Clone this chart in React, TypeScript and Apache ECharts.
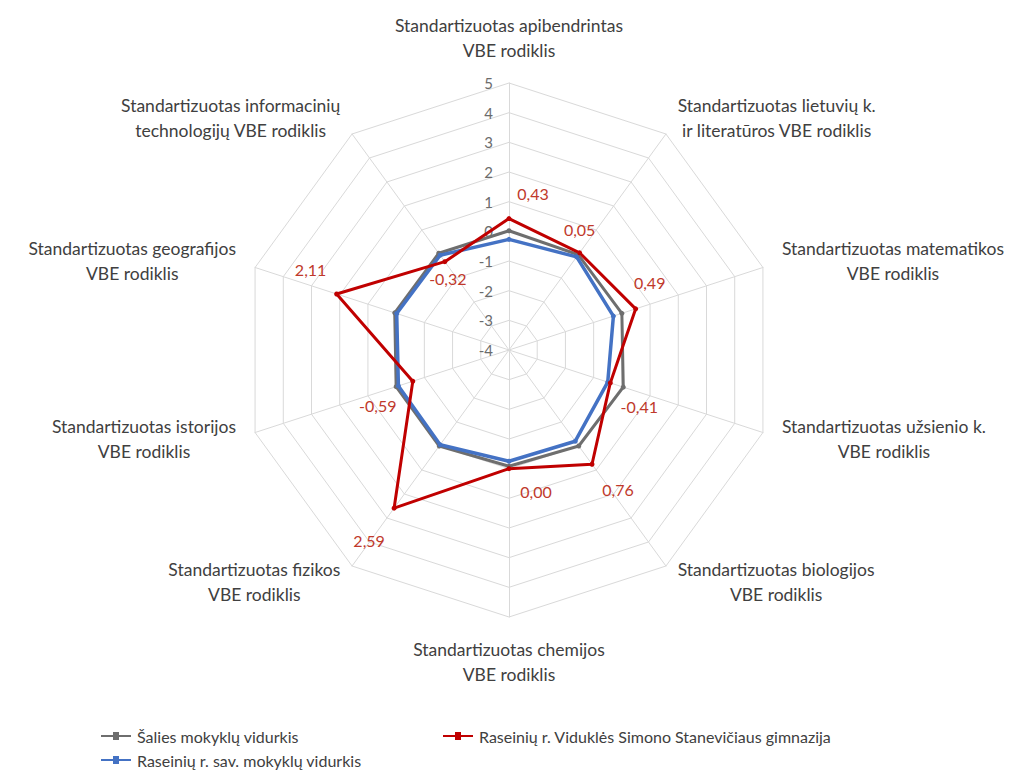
import React, { useEffect, useRef } from "react";
import * as echarts from "echarts";

// Axes, clockwise from the top
const indicatorNames = [
  "Standartizuotas apibendrintas\nVBE rodiklis",
  "Standartizuotas lietuvių k.\nir literatūros VBE rodiklis",
  "Standartizuotas matematikos\nVBE rodiklis",
  "Standartizuotas užsienio k.\nVBE rodiklis",
  "Standartizuotas biologijos\nVBE rodiklis",
  "Standartizuotas chemijos\nVBE rodiklis",
  "Standartizuotas fizikos\nVBE rodiklis",
  "Standartizuotas istorijos\nVBE rodiklis",
  "Standartizuotas geografijos\nVBE rodiklis",
  "Standartizuotas informacinių\ntechnologijų VBE rodiklis",
];

const seriesNames = [
  "Šalies mokyklų vidurkis",
  "Raseinių r. sav. mokyklų vidurkis",
  "Raseinių r. Viduklės Simono Stanevičiaus gimnazija",
];

// values, clockwise from the top
const countryAvg = [0.02, -0.03, 0.0, 0.05, 0.0, -0.08, 0.0, 0.0, 0.05, 0.03];
const municipalityAvg = [-0.27, -0.12, -0.3, -0.5, -0.2, -0.25, -0.05, -0.08, -0.02, -0.05];
const schoolValues = [0.43, 0.05, 0.49, -0.41, 0.76, 0.0, 2.59, -0.59, 2.11, -0.32];

const axisMin = -4;
const axisMax = 5;

// label offsets (style), clockwise from top
const labelOffsets: [number, number][] = [
  [24, -25], [0, -23], [14, -26], [29, 24], [26, 25],
  [27, 23], [-25, 32], [-35, 24], [-26, -24], [3, 17],
];

const colors = ["#6e6e6e", "#4472c4", "#c00000"];
const FONT = "Lato";

export default function App() {
  const ref = useRef<HTMLDivElement>(null);
  useEffect(() => {
    if (!ref.current) return;
    const chart = echarts.init(ref.current, null, { renderer: "svg" });
    // ECharts radar runs counter-clockwise; reorder so the picture runs clockwise
    const order = [0, 9, 8, 7, 6, 5, 4, 3, 2, 1];
    const indicator = order.map((i) => {
      const o: any = { name: indicatorNames[i], min: axisMin, max: axisMax };
      if (i === 0) o.axisLabel = { show: true };
      return o;
    });
    const pick = (arr: number[]) => order.map((i) => arr[i]);

    const rich: any = {};
    order.forEach((orig, k) => {
      const [dx, dy] = labelOffsets[orig];
      rich["o" + k] = {
        color: "#c0392b",
        fontSize: 16,
        fontFamily: FONT,
        padding: [
          dy > 0 ? 2 * dy : 0,
          dx < 0 ? -2 * dx : 0,
          dy < 0 ? -2 * dy : 0,
          dx > 0 ? 2 * dx : 0,
        ],
      };
    });

    const iconPath = "path://M0,3H12V0H18V3H30V5H18V8H12V5H0Z";
    const legendBase = {
      itemWidth: 32,
      itemHeight: 8,
      icon: iconPath,
      textStyle: { color: "#404040", fontSize: 16, fontFamily: FONT },
    };

    const option: any = {
      animation: false,
      backgroundColor: "#ffffff",
      textStyle: { fontFamily: FONT },
      color: colors,
      legend: [
        { ...legendBase, data: [seriesNames[0]], left: 96, top: 723 },
        { ...legendBase, data: [seriesNames[2]], left: 438, top: 723 },
        { ...legendBase, data: [seriesNames[1]], left: 96, top: 747 },
      ],
      radar: {
        center: [509, 350],
        radius: 267,
        startAngle: 90,
        shape: "polygon",
        splitNumber: 9,
        indicator,
        nameGap: 20,
        axisName: {
          color: "#404040",
          fontSize: 17.5,
          fontFamily: FONT,
          formatter: (name: string) =>
            name.split("\n").map((l) => `{c|${l}}`).join("\n"),
          rich: {
            c: {
              align: "center",
              color: "#404040",
              fontSize: 17.5,
              fontFamily: FONT,
              lineHeight: 25,
            },
          },
        },
        axisLine: { lineStyle: { color: "#d9d9d9", width: 1 } },
        splitLine: { lineStyle: { color: "#d9d9d9", width: 1 } },
        splitArea: { show: false },
        axisTick: { show: false },
        axisLabel: {
          show: false,
          color: "#6b6b6b",
          fontSize: 15,
          fontFamily: FONT,
          margin: 16,
        },
      },
      series: [
        {
          type: "radar",
          name: seriesNames[0],
          symbol: "circle",
          symbolSize: 5,
          lineStyle: { width: 3, color: colors[0] },
          itemStyle: { color: colors[0] },
          data: [{ name: seriesNames[0], value: pick(countryAvg) }],
        },
        {
          type: "radar",
          name: seriesNames[1],
          symbol: "circle",
          symbolSize: 5,
          lineStyle: { width: 3.5, color: colors[1] },
          itemStyle: { color: colors[1] },
          data: [{ name: seriesNames[1], value: pick(municipalityAvg) }],
        },
        {
          type: "radar",
          name: seriesNames[2],
          symbol: "circle",
          symbolSize: 5,
          lineStyle: { width: 3, color: colors[2] },
          itemStyle: { color: colors[2] },
          label: {
            show: true,
            position: "inside",
            formatter: (p: any) => {
              const k = p.dimensionIndex ?? 0;
              const v = Array.isArray(p.value) ? p.value[k] : p.value;
              const txt = Number(v).toFixed(2).replace(".", ",");
              return `{o${k}|${txt}}`;
            },
            rich,
          },
          data: [{ name: seriesNames[2], value: pick(schoolValues) }],
        },
      ],
    };
    chart.setOption(option);
    return () => chart.dispose();
  }, []);
  return (
    <div
      ref={ref}
      style={{ position: "absolute", left: 0, top: 0, width: 1027, height: 771 }}
    />
  );
}
